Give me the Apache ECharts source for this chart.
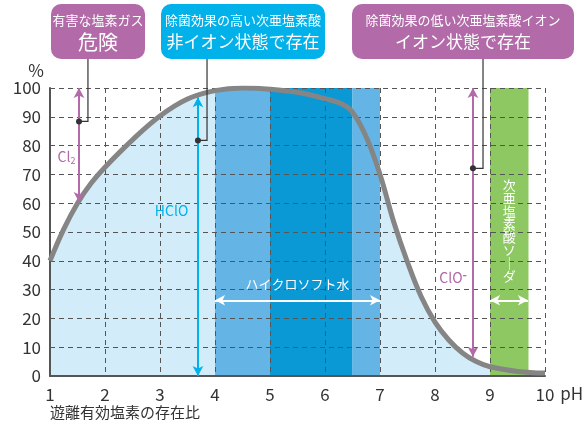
<!DOCTYPE html>
<html><head><meta charset="utf-8">
<script src="https://cdn.jsdelivr.net/npm/echarts@6/dist/echarts.min.js"></script>
<style>html,body{margin:0;padding:0;background:#fff}#c{width:582px;height:427px}</style>
</head><body><div id="c"></div>
<script>
// ---- data ----
const phValues   = [1, 1.25, 1.5, 1.75, 2, 2.5, 3, 3.5, 4, 4.5, 5, 5.5, 6, 6.3, 6.5, 6.75, 7, 7.25, 7.5, 7.75, 8, 8.25, 8.5, 8.75, 9, 9.5, 10];
const hcloRatio  = [40, 51, 60, 67, 72.5, 82, 90.3, 96.2, 99.1, 100, 99.6, 98.5, 96.3, 94.5, 91.6, 83, 70, 53.5, 39.5, 27.5, 18.7, 12.5, 8, 5, 3.2, 1.6, 1];
const bandStart  = [4, 5, 6.5, 9];
const bandEnd    = [5, 6.5, 7, 9.7];
const bandTop    = [100, 100, 100, 100];
const bandKind   = [0, 1, 0, 2];
const xTicks     = [1,2,3,4,5,6,7,8,9,10];
const yTicks     = [0,10,20,30,40,50,60,70,80,90,100];
// arrows [x1,y1,x2,y2]
const cl2Arrow   = [1.527, 100, 1.527, 60.4];
const hcloArrow  = [3.69, 96.8, 3.69, 0];
const cloArrow   = [8.69, 100, 8.69, 6.7];
const hicloArrow = [4, 26.3, 7, 26.3];
const sodaArrow  = [9, 26.3, 9.69, 26.3];

const FONT = "'Noto Sans CJK JP', 'Noto Sans', sans-serif";
const PURPLE = '#b26aa8', CYAN = '#00b1ea';
const bandColors = ['#64b5e6', '#0b99d6', '#8dc863'];

const curve = phValues.map((p, i) => [p, hcloRatio[i]]);
const bands = bandStart.map((s, i) => [s, bandEnd[i], bandTop[i], bandKind[i]]);

function arrow(a, color) {
  return [{coord: [a[0], a[1]], lineStyle: {color: color, width: 2, type: 'solid'}, symbol: 'arrow'},
          {coord: [a[2], a[3]], symbol: 'arrow'}];
}

const chart = echarts.init(document.getElementById('c'));
chart.setOption({
  animation: false,
  grid: {left: 50, right: 37, top: 88, bottom: 51, containLabel: false, outerBoundsMode: 'none'},
  xAxis: {
    type: 'value', min: 1, max: 10, interval: 1, z: 3,
    name: 'pH', nameLocation: 'end', nameGap: 3,
    nameTextStyle: {fontSize: 17, color: '#333', fontFamily: FONT, verticalAlign: 'top', padding: [9, 0, 0, 0]},
    axisLine: {show: true, lineStyle: {color: '#555', width: 2}},
    axisTick: {show: false},
    axisLabel: {fontSize: 17, color: '#333', margin: 10, fontFamily: FONT,
      formatter: v => xTicks.includes(v) ? String(v) : ''},
    splitLine: {show: true, lineStyle: {color: '#555', type: [5, 4], width: 1}}
  },
  yAxis: {
    type: 'value', min: 0, max: 100, interval: 10, z: 3,
    name: '%', nameLocation: 'end', nameGap: 9,
    nameTextStyle: {fontSize: 17, color: '#333', fontFamily: FONT, align: 'right', padding: [0, 6, 0, 0]},
    axisLine: {show: true, lineStyle: {color: '#555', width: 2}},
    axisTick: {show: false},
    axisLabel: {fontSize: 17, color: '#333', margin: 9, fontFamily: FONT,
      formatter: v => yTicks.includes(v) ? String(v) : ''},
    splitLine: {show: true, lineStyle: {color: '#555', type: [5, 4], width: 1}}
  },
  series: [
    {type: 'line', data: curve, smooth: 0.4, symbol: 'none', z: 1,
     lineStyle: {width: 0}, areaStyle: {color: '#d2edf9', opacity: 1}, silent: true},
    {type: 'custom', data: bands, z: 2, silent: true,
     renderItem: function (params, api) {
       const p0 = api.coord([api.value(0), api.value(2)]);
       const p1 = api.coord([api.value(1), 0]);
       return {type: 'rect', shape: {x: p0[0], y: p0[1], width: p1[0] - p0[0], height: p1[1] - p0[1]},
               style: {fill: bandColors[api.value(3)]}};
     }},
    {type: 'line', data: curve, smooth: 0.4, symbol: 'none', z: 4,
     lineStyle: {width: 5, color: '#858585'}, silent: true,
     markLine: {silent: true, symbolSize: [8, 10], label: {show: false},
       data: [arrow(cl2Arrow, PURPLE), arrow(hcloArrow, CYAN), arrow(cloArrow, PURPLE),
              arrow(hicloArrow, '#fff'), arrow(sodaArrow, '#fff')]}}
  ]
});

// annotations (positioned from data coordinates where tied to the plot)
const px = (x, y) => chart.convertToPixel({gridIndex: 0}, [x, y]);
const leaders = [
  {fromX: 1.69, toX: 1.527, y: 88.4},
  {fromX: 3.855, toX: 3.69, y: 81.8},
  {fromX: 8.873, toX: 8.69, y: 72.1}
];
const boxes = [
  {x: 51, w: 94, color: PURPLE, t1: '有害な塩素ガス', t2: '危険', s2: 20},
  {x: 161, w: 164, color: CYAN, t1: '除菌効果の高い次亜塩素酸', t2: '非イオン状態で存在', s2: 17},
  {x: 352, w: 222, color: PURPLE, t1: '除菌効果の低い次亜塩素酸イオン', t2: 'イオン状態で存在', s2: 17}
];
const g = [];
boxes.forEach(b => {
  g.push({type: 'rect', shape: {x: b.x, y: 4, width: b.w, height: 55, r: 10}, style: {fill: b.color}, z: 10});
  g.push({type: 'text', x: b.x + b.w / 2, y: 20, z: 11,
    style: {text: b.t1, fill: '#fff', font: '13px ' + FONT, textAlign: 'center', textVerticalAlign: 'middle'}});
  g.push({type: 'text', x: b.x + b.w / 2, y: 42, z: 11,
    style: {text: b.t2, fill: '#fff', font: b.s2 + 'px ' + FONT, textAlign: 'center', textVerticalAlign: 'middle'}});
});
leaders.forEach(l => {
  const a = px(l.fromX, l.y), b = px(l.toX, l.y);
  g.push({type: 'polyline', z: 9, shape: {points: [[a[0], 59], a, b]}, style: {stroke: '#333', lineWidth: 1.2, fill: null}});
  g.push({type: 'circle', z: 12, shape: {cx: b[0], cy: b[1], r: 3}, style: {fill: '#333'}});
});
const labels = [
  {x: 1.3, y: 76, rich: '{a|Cl}{s|2}', color: PURPLE},
  {x: 3.21, y: 57.5, rich: '{a|HClO}', color: CYAN},
  {x: 8.33, y: 34, rich: '{a|ClO}{p|-}', color: PURPLE},
  {x: 5.5, y: 32, rich: '{w|ハイクロソフト水}', color: '#fff'}
];
labels.forEach(t => {
  const p = px(t.x, t.y);
  g.push({type: 'text', x: p[0], y: p[1], z: 12, style: {
    text: t.rich, textAlign: 'center', textVerticalAlign: 'middle',
    rich: {
      a: {fontSize: 14, fontFamily: FONT, fill: t.color, color: t.color},
      s: {fontSize: 9, fontFamily: FONT, fill: t.color, color: t.color, padding: [6, 0, 0, 0]},
      p: {fontSize: 12, fontFamily: FONT, fill: t.color, color: t.color, padding: [0, 0, 8, 0], fontWeight: 'bold'},
      w: {fontSize: 13, fontFamily: FONT, fill: '#fff', color: '#fff'}
    }}});
});
const sp = px(9.35, 50.6);
g.push({type: 'text', x: sp[0], y: sp[1], z: 12, style: {
  text: ['次','亜','塩','素','酸','ソ','｜','ダ'].join('\n'), fill: '#fff', font: '13px ' + FONT,
  lineHeight: 13, textAlign: 'center', textVerticalAlign: 'middle'}});
g.push({type: 'text', x: 50, y: 412, z: 12, style: {
  text: '遊離有効塩素の存在比', fill: '#333', font: '15px ' + FONT, textAlign: 'left', textVerticalAlign: 'middle'}});
chart.setOption({graphic: g});
</script>
</body></html>
